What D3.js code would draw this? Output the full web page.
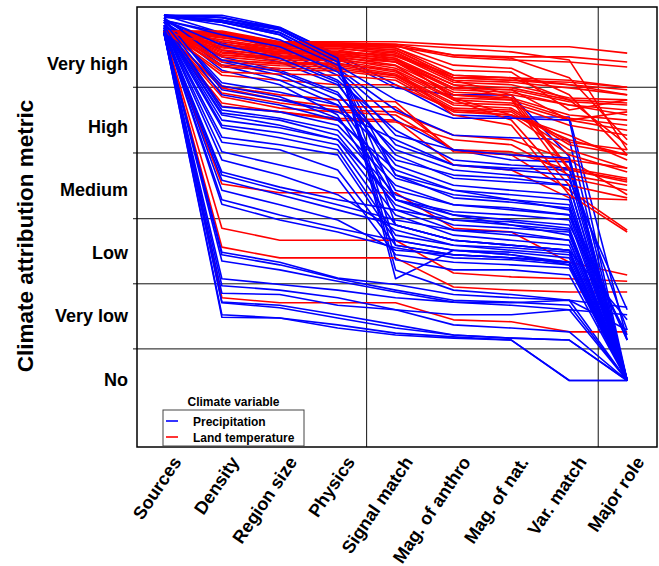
<!DOCTYPE html>
<html>
<head>
<meta charset="utf-8">
<script src="https://cdn.jsdelivr.net/npm/d3@7"></script>
<style>
  body { margin: 0; background: #fff; }
  text { font-family: "Liberation Sans", Arial, Helvetica, sans-serif; }
</style>
</head>
<body>
<div class="canvas"></div>
<script>
// axes of the parallel plot
const categories = ['Sources', 'Density', 'Region size', 'Physics', 'Signal match',
    'Mag. of anthro', 'Mag. of nat.', 'Var. match', 'Major role'];

// metric levels, 0 = No ... 5 = Very high
const levels = ['No', 'Very low', 'Low', 'Medium', 'High', 'Very high'];

// grid positions (x in axis index units, y in metric units)
const xGrid = [3.5, 7.5];
const yGrid = [0.50, 1.53, 2.56, 3.60, 4.64];

// precipitation events, one row per event, one value per axis
const precipitation = [
    [5.78, 5.78, 5.59, 5.15, 1.61, 2.06, 1.99, 1.83, 0],
    [5.78, 5.75, 5.56, 5.12, 1.75, 1.43, 1.36, 1.27, 0],
    [5.78, 5.74, 5.55, 5.07, 2.46, 2.22, 2.14, 2.06, 0],
    [5.78, 5.70, 5.51, 5.04, 2.86, 2.62, 2.46, 2.30, 0],
    [5.78, 5.67, 5.47, 4.99, 3.25, 3.01, 2.86, 2.70, 0],
    [5.75, 5.70, 5.55, 5.10, 4.63, 4.52, 4.52, 3.54, 0],
    [5.78, 5.74, 5.58, 5.15, 4.68, 4.20, 4.17, 4.17, 0.64],
    [5.75, 5.67, 5.47, 4.94, 4.28, 3.88, 3.84, 3.81, 0],
    [5.70, 5.50, 5.31, 4.91, 4.12, 3.65, 3.49, 3.46, 0],
    [5.78, 5.50, 5.23, 4.83, 3.73, 3.41, 3.36, 3.33, 0.80],
    [5.70, 5.34, 5.15, 4.75, 3.96, 3.49, 3.41, 3.36, 0],
    [5.70, 5.23, 5.04, 4.68, 3.57, 3.20, 3.14, 3.09, 0],
    [5.67, 5.12, 4.91, 4.56, 3.41, 3.09, 3.01, 2.94, 0],
    [5.67, 5.04, 4.83, 4.44, 3.01, 2.78, 2.73, 2.62, 0.64],
    [5.62, 4.99, 4.75, 4.36, 2.86, 2.54, 2.51, 2.41, 0],
    [5.62, 4.91, 4.68, 4.20, 2.70, 2.38, 2.35, 2.22, 0],
    [5.70, 4.71, 4.56, 4.36, 3.49, 3.25, 3.20, 3.09, 0],
    [5.70, 4.66, 4.49, 4.15, 3.20, 2.94, 2.86, 2.78, 0],
    [5.67, 4.33, 4.25, 4.04, 3.09, 2.78, 2.70, 2.62, 0],
    [5.67, 4.28, 4.15, 3.96, 2.94, 2.62, 2.54, 2.46, 0.72],
    [5.62, 4.23, 4.12, 3.88, 2.78, 2.46, 2.41, 2.35, 0],
    [5.62, 4.20, 4.04, 3.81, 2.62, 2.30, 2.22, 2.14, 0],
    [5.62, 4.04, 3.92, 3.73, 2.46, 2.22, 2.14, 2.06, 0],
    [5.59, 4.00, 3.84, 3.65, 2.30, 2.14, 2.06, 1.99, 0],
    [5.59, 3.85, 3.73, 3.57, 2.22, 2.06, 2.03, 1.94, 0],
    [5.58, 3.77, 3.65, 3.33, 2.14, 1.99, 1.94, 1.87, 0],
    [5.58, 3.62, 3.41, 3.20, 1.99, 1.87, 1.83, 1.78, 0],
    [5.55, 3.30, 3.06, 2.86, 2.70, 2.54, 2.46, 2.38, 0],
    [5.55, 3.25, 3.01, 2.78, 2.54, 2.38, 2.30, 2.22, 0],
    [5.55, 3.17, 2.94, 2.70, 2.46, 2.22, 2.14, 2.06, 0.96],
    [5.55, 2.86, 2.62, 2.41, 2.22, 2.06, 1.99, 1.87, 0],
    [5.55, 2.79, 2.54, 2.35, 2.10, 1.94, 1.91, 1.83, 0],
    [5.51, 2.03, 1.87, 1.62, 1.52, 1.36, 1.31, 1.27, 0.80],
    [5.51, 1.99, 1.83, 1.61, 1.43, 1.27, 1.24, 1.19, 0],
    [5.51, 1.89, 1.75, 1.57, 1.40, 1.24, 1.19, 1.12, 0],
    [5.50, 1.61, 1.52, 1.43, 1.31, 1.24, 1.23, 1.27, 1.16],
    [5.50, 1.50, 1.43, 1.31, 1.12, 0.88, 0.83, 0.77, 0],
    [5.50, 1.38, 1.36, 1.19, 1.12, 1.04, 1.04, 1.12, 1.04],
    [5.50, 1.24, 1.19, 1.04, 0.88, 0.72, 0.67, 0.64, 0],
    [5.50, 1.00, 0.99, 0.88, 0.75, 0.69, 0.64, 0, 0],
    [5.50, 1.23, 1.15, 0.99, 0.83, 0.72, 0.67, 0.64, 0],
    [5.50, 1.04, 0.99, 0.83, 0.72, 0.67, 0.64, 0, 0],
    [5.74, 4.60, 4.44, 4.25, 3.81, 3.41, 3.33, 3.25, 0],
    [5.74, 5.07, 4.88, 4.52, 3.65, 3.33, 3.25, 3.17, 1.12],
    [5.70, 5.47, 5.28, 4.88, 3.88, 3.65, 3.57, 3.52, 0],
    [5.78, 5.62, 5.39, 4.99, 4.44, 4.15, 4.15, 4.12, 0],
    [5.67, 4.52, 4.36, 4.12, 3.33, 3.01, 2.94, 2.86, 0],
    [5.62, 4.12, 4.00, 3.81, 2.86, 2.67, 2.62, 2.54, 0],
    [5.58, 3.49, 3.25, 2.94, 2.38, 2.14, 2.10, 2.03, 0],
    [5.55, 3.01, 2.78, 2.54, 2.06, 1.99, 1.94, 1.87, 0],
    [5.78, 5.67, 5.50, 5.04, 2.14, 1.99, 1.94, 1.87, 0],
    [5.78, 5.70, 5.55, 5.10, 1.91, 1.75, 1.75, 1.67, 0],
    [5.70, 5.31, 5.10, 4.72, 3.25, 2.89, 2.82, 2.73, 0.64]
];

// land temperature events
const landTemperature = [
    [5.53, 3.11, 2.97, 2.97, 2.97, 2.41, 2.35, 1.87, 1.67],
    [5.53, 2.41, 2.22, 2.22, 2.22, 1.70, 1.64, 1.61, 1.57],
    [5.53, 2.11, 1.94, 1.94, 1.94, 1.48, 1.43, 1.40, 1.40],
    [5.53, 1.31, 1.23, 1.23, 1.23, 0.96, 0.93, 0.77, 0.77],
    [5.53, 4.63, 4.44, 4.33, 4.33, 3.65, 3.62, 3.33, 3.17],
    [5.53, 4.55, 4.39, 4.28, 4.25, 3.88, 3.81, 3.49, 2.94],
    [5.53, 4.49, 4.31, 4.25, 4.20, 3.65, 3.57, 3.01, 2.38],
    [5.53, 4.39, 4.25, 4.15, 4.12, 3.41, 3.33, 2.89, 2.86],
    [5.53, 4.34, 4.25, 4.12, 4.09, 3.81, 3.73, 3.25, 3.09],
    [5.53, 4.83, 4.75, 4.68, 4.68, 4.28, 4.20, 3.81, 3.57],
    [5.53, 4.66, 4.52, 4.44, 4.41, 3.62, 3.57, 3.49, 3.36],
    [5.53, 5.53, 5.36, 5.36, 5.36, 5.31, 5.28, 5.28, 5.18],
    [5.53, 5.51, 5.34, 5.34, 5.32, 5.15, 5.12, 5.12, 5.04],
    [5.53, 5.50, 5.32, 5.32, 5.29, 5.12, 5.07, 5.04, 4.96],
    [5.53, 5.48, 5.31, 5.31, 5.26, 4.83, 4.79, 4.75, 4.64],
    [5.53, 5.47, 5.29, 5.29, 5.23, 4.79, 4.75, 4.68, 4.60],
    [5.53, 5.43, 5.28, 5.28, 5.20, 4.75, 4.72, 4.63, 4.52],
    [5.53, 5.39, 5.26, 5.26, 5.15, 4.72, 4.68, 4.47, 4.44],
    [5.53, 5.36, 5.23, 5.23, 5.10, 4.68, 4.63, 4.44, 4.39],
    [5.53, 5.32, 5.20, 5.20, 5.07, 4.63, 4.60, 4.41, 4.36],
    [5.53, 5.28, 5.17, 5.17, 5.04, 4.60, 4.56, 4.36, 4.28],
    [5.53, 5.23, 5.13, 5.12, 4.99, 4.56, 4.52, 4.36, 4.20],
    [5.53, 5.20, 5.10, 5.09, 4.94, 4.52, 4.47, 4.20, 4.12],
    [5.53, 5.15, 5.07, 5.06, 4.91, 4.47, 4.44, 4.15, 4.04],
    [5.53, 5.12, 5.04, 5.02, 4.88, 4.44, 4.39, 4.12, 3.96],
    [5.53, 5.07, 5.01, 4.99, 4.85, 4.39, 4.36, 4.04, 3.88],
    [5.53, 5.04, 4.98, 4.96, 4.83, 4.36, 4.31, 3.77, 3.65],
    [5.53, 4.99, 4.94, 4.93, 4.82, 4.31, 4.28, 3.73, 3.57],
    [5.53, 4.96, 4.91, 4.90, 4.79, 4.28, 4.25, 3.65, 3.36],
    [5.53, 4.88, 4.85, 4.83, 4.75, 4.25, 4.20, 3.57, 3.30],
    [5.53, 5.31, 5.23, 5.20, 5.13, 4.79, 4.75, 4.72, 4.64],
    [5.53, 5.42, 5.31, 5.29, 5.23, 4.79, 4.79, 4.68, 4.52],
    [5.53, 5.36, 5.26, 5.25, 5.18, 4.75, 4.52, 3.36, 3.20],
    [5.53, 5.23, 5.15, 5.13, 5.07, 4.68, 4.47, 3.33, 3.14],
    [5.53, 5.26, 5.18, 5.15, 5.04, 4.52, 4.44, 3.20, 3.01],
    [5.53, 5.15, 5.10, 5.07, 4.98, 4.44, 4.12, 3.09, 2.89],
    [5.53, 5.07, 5.02, 5.01, 4.91, 4.20, 4.04, 2.94, 2.35],
    [5.53, 5.50, 5.36, 5.34, 5.32, 5.26, 5.20, 5.07, 3.65],
    [5.53, 5.45, 5.32, 5.31, 5.29, 5.15, 5.10, 4.79, 3.81],
    [5.53, 5.32, 5.23, 5.20, 5.15, 4.83, 4.79, 4.44, 3.73],
    [5.53, 5.18, 5.12, 5.10, 5.04, 4.63, 4.60, 4.12, 4.25],
    [5.53, 5.45, 5.31, 5.31, 5.26, 4.91, 4.88, 4.28, 4.44],
    [5.53, 5.51, 5.34, 5.32, 5.31, 4.99, 4.94, 4.52, 3.57],
    [5.53, 5.28, 5.20, 5.17, 5.10, 4.47, 4.20, 3.88, 3.49]
];

const series = [
    { name: 'Precipitation', color: '#0000ff', rows: precipitation },
    { name: 'Land temperature', color: '#ff0000', rows: landTemperature }
];

const width = 659;
const height = 566;

const svg = d3.select('.canvas')
    .append('svg')
    .attr('width', width)
    .attr('height', height);

// plot box
const box = { left: 137, top: 7, right: 657, bottom: 447 };

// scales
const x = d3.scaleLinear()
    .domain([-0.466, 8.515])
    .range([box.left, box.right]);

const y = d3.scaleLinear()
    .domain([0, 5])
    .range([380.5, 64.5]);

// grid
svg.append('g')
    .selectAll('line')
    .data(yGrid)
    .enter()
    .append('line')
    .attr('x1', box.left - 4)
    .attr('x2', box.right)
    .attr('y1', d => y(d))
    .attr('y2', d => y(d))
    .attr('stroke', '#111')
    .attr('stroke-width', 1);

svg.append('g')
    .selectAll('line')
    .data(xGrid)
    .enter()
    .append('line')
    .attr('x1', d => x(d))
    .attr('x2', d => x(d))
    .attr('y1', box.top)
    .attr('y2', box.bottom)
    .attr('stroke', '#111')
    .attr('stroke-width', 1);

// interleave the two variables so neither is drawn fully on top
const rows = [];
d3.range(d3.max(series, s => s.rows.length)).forEach(i => {
    series.forEach(s => {
        if (s.rows[i]) rows.push({ color: s.color, values: s.rows[i] });
    });
});

const line = d3.line()
    .x((d, i) => x(i))
    .y(d => y(d));

svg.append('g')
    .selectAll('path')
    .data(rows)
    .enter()
    .append('path')
    .attr('d', d => line(d.values))
    .attr('fill', 'none')
    .attr('stroke', d => d.color)
    .attr('stroke-width', 1.6)
    .attr('stroke-linejoin', 'round');

// frame
svg.append('rect')
    .attr('x', box.left)
    .attr('y', box.top)
    .attr('width', box.right - box.left)
    .attr('height', box.bottom - box.top)
    .attr('fill', 'none')
    .attr('stroke', '#000')
    .attr('stroke-width', 1.5);

// y labels
svg.append('g')
    .selectAll('text')
    .data(levels)
    .enter()
    .append('text')
    .attr('x', 128)
    .attr('y', (d, i) => y(i))
    .attr('dy', '0.28em')
    .attr('text-anchor', 'end')
    .attr('font-size', 18)
    .attr('font-weight', 'bold')
    .text(d => d);

svg.append('text')
    .attr('transform', 'translate(33, 236) rotate(-90)')
    .attr('text-anchor', 'middle')
    .attr('font-size', 22.5)
    .attr('font-weight', 'bold')
    .text('Climate attribution metric');

// x labels
svg.append('g')
    .selectAll('text')
    .data(categories)
    .enter()
    .append('text')
    .attr('transform', (d, i) => `translate(${x(i) + 18}, 462) rotate(-56)`)
    .attr('text-anchor', 'end')
    .attr('font-size', 18)
    .attr('font-weight', 'bold')
    .text(d => d);

// legend
const legend = svg.append('g');

legend.append('text')
    .attr('x', 233.5)
    .attr('y', 406)
    .attr('text-anchor', 'middle')
    .attr('font-size', 12)
    .attr('font-weight', 'bold')
    .text('Climate variable');

legend.append('rect')
    .attr('x', 163)
    .attr('y', 410)
    .attr('width', 141)
    .attr('height', 36)
    .attr('fill', '#fff')
    .attr('stroke', '#444')
    .attr('stroke-width', 1);

series.forEach((s, i) => {
    legend.append('line')
        .attr('x1', 166)
        .attr('x2', 178)
        .attr('y1', 421 + i * 16)
        .attr('y2', 421 + i * 16)
        .attr('stroke', s.color)
        .attr('stroke-width', 1.6);
    legend.append('text')
        .attr('x', 193)
        .attr('y', 426 + i * 16)
        .attr('font-size', 12)
        .attr('font-weight', 'bold')
        .text(s.name);
});
</script>
</body>
</html>
